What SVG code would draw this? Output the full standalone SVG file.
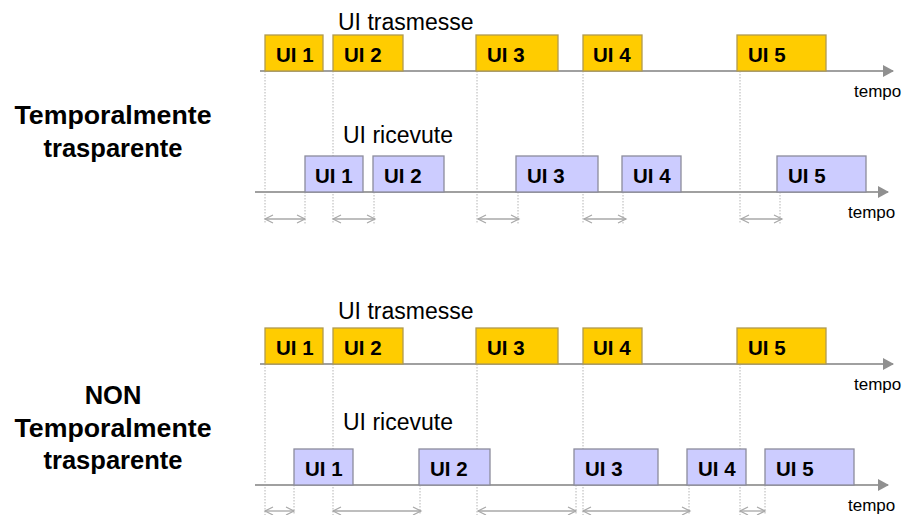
<svg xmlns="http://www.w3.org/2000/svg" width="904" height="515" viewBox="0 0 904 515">
<style>
text{font-family:"Liberation Sans",Arial,sans-serif;fill:#000}
.tx{fill:#FFCC00;stroke:#B09A50;stroke-width:1.3}
.rx{fill:#CCCCFF;stroke:#8C8C9C;stroke-width:1.3}
.lbl{font-size:20.5px;font-weight:bold}
.ttl{font-size:23px}
.tmp{font-size:17px}
.side{font-size:25.5px;font-weight:bold;text-anchor:middle}
.axis{stroke:#A0A0A0;stroke-width:2;fill:none}
.dot{stroke:#B4B4B4;stroke-width:1;stroke-dasharray:1.5 1.5;fill:none}
.dbl{stroke:#A8A8A8;stroke-width:1.3;fill:none;marker-start:url(#oh);marker-end:url(#oh)}
</style>
<defs>
<marker id="ah" markerWidth="12" markerHeight="12" refX="10" refY="6" orient="auto" markerUnits="userSpaceOnUse">
<path d="M0,0 L11,6 L0,12 Z" fill="#909090"/>
</marker>
<marker id="oh" markerWidth="12" markerHeight="12" refX="10" refY="6" orient="auto-start-reverse" markerUnits="userSpaceOnUse">
<path d="M2,2 L10,6 L2,10" fill="none" stroke="#A8A8A8" stroke-width="1.2"/>
</marker>
</defs>

<g id="label-top">
<text class="side" x="113" y="124" textLength="197" lengthAdjust="spacingAndGlyphs">Temporalmente</text>
<text class="side" x="113" y="157" textLength="139" lengthAdjust="spacingAndGlyphs">trasparente</text>
</g>
<g id="label-bottom">
<text class="side" x="113" y="404">NON</text>
<text class="side" x="113" y="437" textLength="197" lengthAdjust="spacingAndGlyphs">Temporalmente</text>
<text class="side" x="113" y="469" textLength="139" lengthAdjust="spacingAndGlyphs">trasparente</text>
</g>

<g id="connectors">
<line class="dot" x1="265" y1="71" x2="265" y2="224"/>
<line class="dot" x1="333" y1="71" x2="333" y2="224"/>
<line class="dot" x1="477" y1="71" x2="477" y2="224"/>
<line class="dot" x1="583" y1="71" x2="583" y2="224"/>
<line class="dot" x1="740" y1="71" x2="740" y2="224"/>
<line class="dot" x1="305" y1="192" x2="305" y2="224"/>
<line class="dot" x1="374" y1="192" x2="374" y2="224"/>
<line class="dot" x1="518" y1="192" x2="518" y2="224"/>
<line class="dot" x1="623" y1="192" x2="623" y2="224"/>
<line class="dot" x1="780" y1="192" x2="780" y2="224"/>
<line class="dot" x1="265" y1="364" x2="265" y2="515"/>
<line class="dot" x1="333" y1="364" x2="333" y2="515"/>
<line class="dot" x1="477" y1="364" x2="477" y2="515"/>
<line class="dot" x1="583" y1="364" x2="583" y2="515"/>
<line class="dot" x1="740" y1="364" x2="740" y2="515"/>
<line class="dot" x1="294" y1="485" x2="294" y2="515"/>
<line class="dot" x1="420" y1="485" x2="420" y2="515"/>
<line class="dot" x1="576" y1="485" x2="576" y2="515"/>
<line class="dot" x1="689" y1="485" x2="689" y2="515"/>
<line class="dot" x1="765" y1="485" x2="765" y2="515"/>
<line class="axis" x1="260" y1="71" x2="893" y2="71" marker-end="url(#ah)"/>
<line class="axis" x1="255" y1="192" x2="888" y2="192" marker-end="url(#ah)"/>
<line class="axis" x1="260" y1="364" x2="893" y2="364" marker-end="url(#ah)"/>
<line class="axis" x1="255" y1="485" x2="888" y2="485" marker-end="url(#ah)"/>
<line class="dbl" x1="265" y1="219" x2="305" y2="219"/>
<line class="dbl" x1="333" y1="219" x2="375" y2="219"/>
<line class="dbl" x1="478" y1="219" x2="519" y2="219"/>
<line class="dbl" x1="584" y1="219" x2="626" y2="219"/>
<line class="dbl" x1="741" y1="219" x2="782" y2="219"/>
<line class="dbl" x1="265" y1="511" x2="294" y2="511"/>
<line class="dbl" x1="333" y1="511" x2="421" y2="511"/>
<line class="dbl" x1="478" y1="511" x2="576" y2="511"/>
<line class="dbl" x1="583" y1="511" x2="690" y2="511"/>
<line class="dbl" x1="740" y1="511" x2="765" y2="511"/>
</g>

<g id="titles">
<text class="ttl" x="338" y="30">UI trasmesse</text>
<text class="ttl" x="343" y="143">UI ricevute</text>
<text class="ttl" x="338" y="319">UI trasmesse</text>
<text class="ttl" x="343" y="430">UI ricevute</text>
<text class="tmp" x="854" y="97">tempo</text>
<text class="tmp" x="848" y="218">tempo</text>
<text class="tmp" x="854" y="390">tempo</text>
<text class="tmp" x="848" y="511">tempo</text>
</g>

<g id="t1-tx1"><rect class="tx" x="265" y="35" width="58" height="36"/><text class="lbl" x="276" y="62">UI 1</text></g>
<g id="t1-tx2"><rect class="tx" x="333" y="35" width="70" height="36"/><text class="lbl" x="344" y="62">UI 2</text></g>
<g id="t1-tx3"><rect class="tx" x="476" y="35" width="82" height="36"/><text class="lbl" x="487" y="62">UI 3</text></g>
<g id="t1-tx4"><rect class="tx" x="583" y="35" width="59" height="36"/><text class="lbl" x="593" y="62">UI 4</text></g>
<g id="t1-tx5"><rect class="tx" x="737" y="35" width="89" height="36"/><text class="lbl" x="748" y="62">UI 5</text></g>
<g id="t1-rx1"><rect class="rx" x="305" y="156" width="58" height="36"/><text class="lbl" x="315" y="183">UI 1</text></g>
<g id="t1-rx2"><rect class="rx" x="373" y="156" width="71" height="36"/><text class="lbl" x="384" y="183">UI 2</text></g>
<g id="t1-rx3"><rect class="rx" x="516" y="156" width="82" height="36"/><text class="lbl" x="527" y="183">UI 3</text></g>
<g id="t1-rx4"><rect class="rx" x="622" y="156" width="59" height="36"/><text class="lbl" x="633" y="183">UI 4</text></g>
<g id="t1-rx5"><rect class="rx" x="777" y="156" width="89" height="36"/><text class="lbl" x="788" y="183">UI 5</text></g>
<g id="t2-tx1"><rect class="tx" x="265" y="328" width="58" height="36"/><text class="lbl" x="276" y="355">UI 1</text></g>
<g id="t2-tx2"><rect class="tx" x="333" y="328" width="70" height="36"/><text class="lbl" x="344" y="355">UI 2</text></g>
<g id="t2-tx3"><rect class="tx" x="476" y="328" width="82" height="36"/><text class="lbl" x="487" y="355">UI 3</text></g>
<g id="t2-tx4"><rect class="tx" x="583" y="328" width="59" height="36"/><text class="lbl" x="593" y="355">UI 4</text></g>
<g id="t2-tx5"><rect class="tx" x="737" y="328" width="89" height="36"/><text class="lbl" x="748" y="355">UI 5</text></g>
<g id="t2-rx1"><rect class="rx" x="294" y="449" width="59" height="36"/><text class="lbl" x="305" y="476">UI 1</text></g>
<g id="t2-rx2"><rect class="rx" x="419" y="449" width="71" height="36"/><text class="lbl" x="430" y="476">UI 2</text></g>
<g id="t2-rx3"><rect class="rx" x="574" y="449" width="84" height="36"/><text class="lbl" x="585" y="476">UI 3</text></g>
<g id="t2-rx4"><rect class="rx" x="687" y="449" width="59" height="36"/><text class="lbl" x="698" y="476">UI 4</text></g>
<g id="t2-rx5"><rect class="rx" x="765" y="449" width="89" height="36"/><text class="lbl" x="776" y="476">UI 5</text></g>
</svg>
